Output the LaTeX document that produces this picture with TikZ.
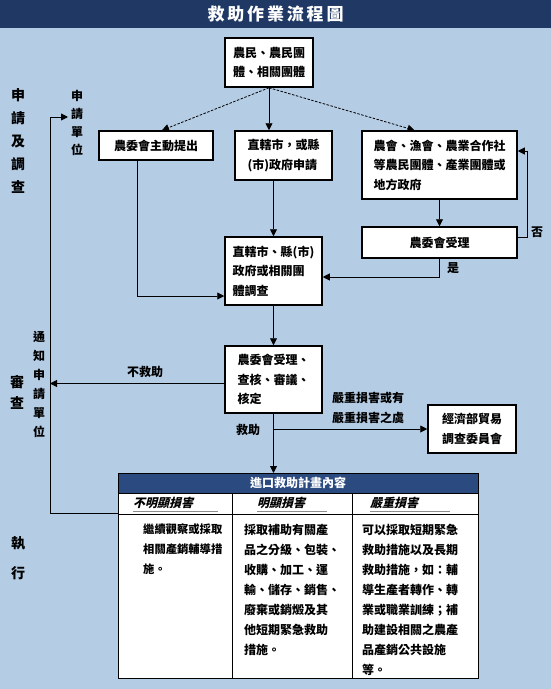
\documentclass[tikz,border=0pt]{standalone}
\usepackage{fontspec}
\newfontfamily\cjk{Noto Sans CJK TC}
\newfontfamily\cjkit{Noto Sans CJK TC}[FakeSlant=0.25]
\usetikzlibrary{arrows.meta,calc}
\definecolor{bg}{HTML}{B4CCE4}
\definecolor{navy}{HTML}{1F3864}
\definecolor{thead}{HTML}{2B4A80}
\begin{document}
\begin{tikzpicture}[x=1pt,y=-1pt,
  box/.style={draw=black, line width=1.5pt, fill=white, inner xsep=7pt, inner ysep=0pt, align=left,
    font=\cjk\bfseries\fontsize{12}{19.5}\selectfont},
  arr/.style={line width=0.9pt, -{Triangle[length=7pt,width=7pt]}},
  dsh/.style={line width=0.8pt, dash pattern=on 2.5pt off 1.5pt, -{Triangle[length=7pt,width=7pt]}},
  lbl/.style={font=\cjk\bfseries\fontsize{12}{20}\selectfont, inner sep=0pt},
  vlA/.style={font=\cjk\bfseries\fontsize{14}{23}\selectfont, inner sep=0pt, align=center},
  vlB/.style={font=\cjk\bfseries\fontsize{12}{19}\selectfont, inner sep=0pt, align=center},
  sub/.style={font=\cjkit\bfseries\fontsize{12}{14}\selectfont, inner sep=0pt, anchor=west},
  body/.style={font=\cjk\bfseries\fontsize{12}{20}\selectfont, inner sep=0pt, anchor=north west, align=left},
  tline/.style={line width=1pt, draw=black},
  uline/.style={line width=0.6pt, draw=black!45}
]
\useasboundingbox (0,0) rectangle (551,689);
\fill[bg] (0,0) rectangle (551,689);
% title
\fill[navy] (0,0) rectangle (551,28);
\node[font=\cjk\bfseries\fontsize{17}{20}\selectfont, text=white, inner sep=0pt] (title) at (275.5,14)
  {救\,助\,作\,業\,流\,程\,圖};

% side labels
\node[vlA] (secA) at (18,140.5) {申\\請\\及\\調\\查};
\node[vlA, font=\cjk\bfseries\fontsize{14}{21}\selectfont] (secB) at (17,392.5) {審\\查};
\node[vlA, font=\cjk\bfseries\fontsize{14}{30}\selectfont] (secC) at (18,558) {執\\行};
\node[vlB, font=\cjk\bfseries\fontsize{12}{18}\selectfont] (unit) at (77,123) {申\\請\\單\\位};
\node[vlB] (notify) at (39,384) {通\\知\\申\\請\\單\\位};

% boxes
\node[box, minimum width=88pt, minimum height=49pt] (top) at (269,62.5) {農民、農民團\\體、相關團體};
\node[box, minimum width=114pt, minimum height=29pt, align=center] (left) at (156,145.5) {農委會主動提出};
\node[box, minimum width=97pt, minimum height=49pt] (mid) at (283.5,155.5) {直轄市，或縣\\(市)政府申請};
\node[box, minimum width=155pt, minimum height=68pt] (right) at (439.5,165) {農會、漁會、農業合作社\\等農民團體、產業團體或\\地方政府};
\node[box, minimum width=155pt, minimum height=31pt, align=center] (accept) at (439.5,242.5) {農委會受理};
\node[box, minimum width=97pt, minimum height=68pt] (invest) at (273.5,271) {直轄市、縣(市)\\政府或相關團\\體調查};
\node[box, minimum width=97pt, minimum height=67pt] (review) at (273.5,379.5) {農委會受理、\\查核、審議、\\核定};
\node[box, minimum width=88pt, minimum height=48pt] (moea) at (472,429) {經濟部貿易\\調查委員會};

% table
\node[draw=black, line width=1pt, fill=white, minimum width=360pt, minimum height=205pt, inner sep=0pt, outer sep=0pt] (tbl) at (298,575.5) {};
\fill[thead] (tbl.north west) rectangle ($(tbl.north east)+(0,20)$);
\draw[tline] (118,493) -- (478,493);
\draw[tline] (118,514) -- (478,514);
\draw[tline] (232,493) -- (232,678);
\draw[tline] (352,493) -- (352,678);
\draw[line width=1pt] (tbl.north west) rectangle (tbl.south east);
\node[font=\cjk\bfseries\fontsize{12}{14}\selectfont, text=white, inner sep=0pt] (thd) at (298,483) {進口救助計畫內容};
\node[sub] (s1) at (133,503) {不明顯損害};
\node[sub] (s2) at (257,503) {明顯損害};
\node[sub] (s3) at (370,503) {嚴重損害};
\draw[uline] (133,511) -- (218,511);
\draw[uline] (257,511) -- (327,511);
\draw[uline] (370,511) -- (450,511);
\node[body, font=\cjk\bfseries\fontsize{11.3}{20}\selectfont] (c1) at (143,524) {繼續觀察或採取\\相關產銷輔導措\\施。};
\node[body] (c2) at (244,524) {採取補助有關產\\品之分級、包裝、\\收購、加工、運\\輸、儲存、銷售、\\廢棄或銷燬及其\\他短期緊急救助\\措施。};
\node[body] (c3) at (362,524) {可以採取短期緊急\\救助措施以及長期\\救助措施，如：輔\\導生產者轉作、轉\\業或職業訓練；補\\助建設相關之農產\\品產銷公共設施\\等。};

% connectors
\draw[arr] (top.south) -- (top.south |- mid.north);
\draw[dsh] (top.south) -- ($(left.north)+(6,0)$);
\draw[dsh] (top.south) -- ($(right.north)+(-25,0)$);
\draw[arr] (right.south) -- (accept.north);
\draw[arr] ($(accept.east)+(0,-5)$) -- ++(10,0) |- ($(right.east)+(0,-14)$);
\node[lbl] (no) at (537,232) {否};
\draw[arr] (accept.south) |- ($(invest.east)+(0,6)$);
\node[lbl] (yes) at (453,268) {是};
\draw[arr] ($(left.south)+(-19,0)$) |- ($(invest.west)+(0,25)$);
\draw[arr] (invest.north |- mid.south) -- (invest.north);
\draw[arr] (invest.south) -- (review.north);

\coordinate (loopT) at (50,117);
\coordinate (unitIn) at (68,117);
\coordinate (loopB) at (50,513);
\draw[arr] (tbl.west |- loopB) -- (loopB) -- (loopT) -- (unitIn);
\draw[arr] ($(review.west)+(0,4)$) coordinate (nr) -- (nr -| loopB);
\node[lbl] (nohelp) at (145,372) {不救助};

\draw[arr] (review.south) -- (review.south |- tbl.north);
\draw[arr] (review.south |- moea.west) -- (moea.west);
\node[lbl] (help) at (248,430) {救助};
\node[lbl, align=left] (severe) at (368,408) {嚴重損害或有\\嚴重損害之虞};
\end{tikzpicture}
\end{document}
